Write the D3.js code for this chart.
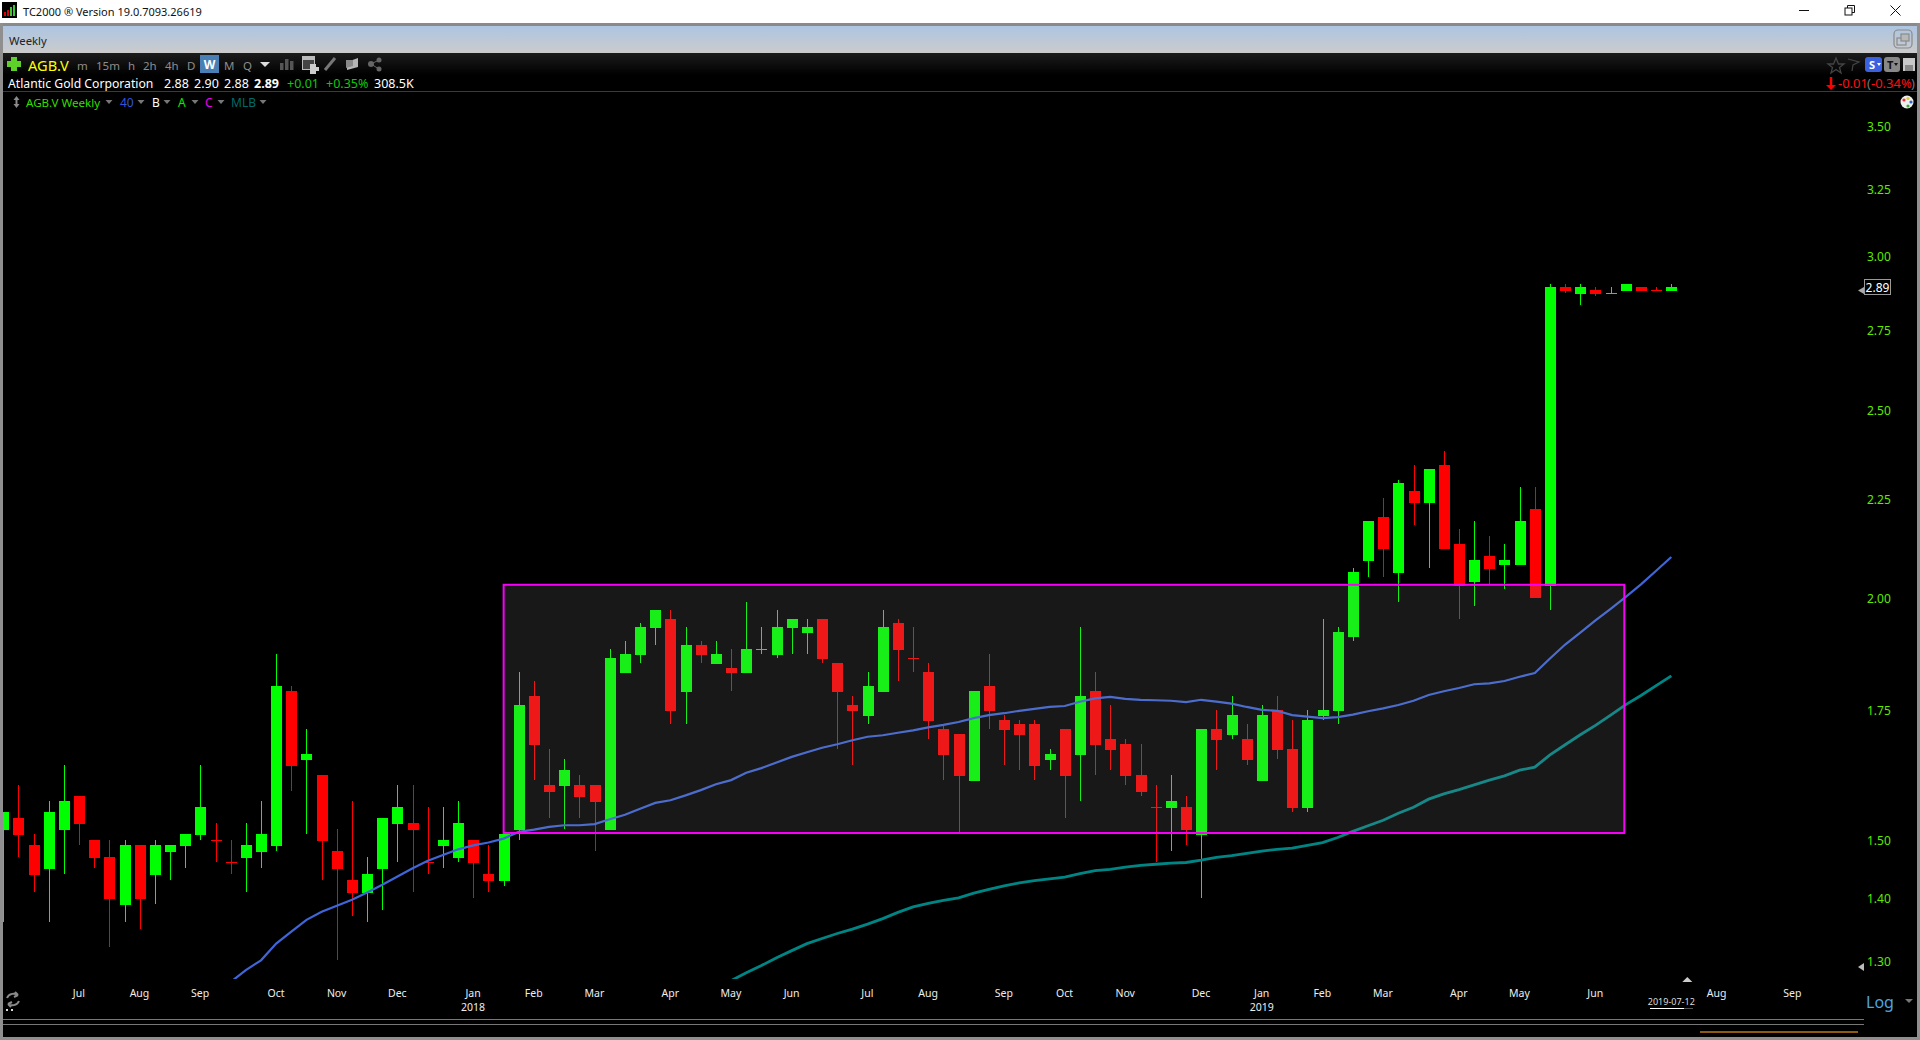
<!DOCTYPE html>
<html><head><meta charset="utf-8"><title>TC2000 AGB.V Weekly</title>
<script src="https://cdn.jsdelivr.net/npm/d3@7/dist/d3.min.js"></script>
<style>html,body{margin:0;padding:0;background:#000;overflow:hidden}svg{display:block}text{font-family:"Noto Sans","Open Sans",sans-serif}</style>
</head><body><svg id="c" width="1920" height="1040"></svg>
<script>
const opens=[1.52,1.54,1.49,1.45,1.52,1.58,1.50,1.47,1.39,1.49,1.44,1.48,1.49,1.51,1.50,1.46,1.47,1.48,1.49,1.79,1.65,1.62,1.48,1.43,1.41,1.45,1.53,1.53,1.46,1.49,1.47,1.50,1.44,1.43,1.52,1.78,1.60,1.60,1.60,1.60,1.52,1.83,1.87,1.93,1.95,1.79,1.89,1.85,1.84,1.83,1.88,1.87,1.93,1.92,1.95,1.85,1.76,1.74,1.79,1.94,1.86,1.83,1.71,1.70,1.61,1.80,1.73,1.72,1.72,1.65,1.71,1.66,1.79,1.69,1.68,1.62,1.56,1.56,1.56,1.51,1.71,1.70,1.69,1.61,1.75,1.67,1.56,1.74,1.75,1.91,2.09,2.20,2.06,2.27,2.24,2.34,2.13,2.04,2.10,2.08,2.08,2.22,2.03,2.89,2.87,2.88,2.87,2.88,2.89,2.88,2.88];
const highs=[1.55,1.60,1.51,1.57,1.64,1.58,1.50,1.50,1.50,1.49,1.50,1.49,1.51,1.64,1.53,1.50,1.53,1.57,1.87,1.80,1.71,1.62,1.52,1.57,1.47,1.54,1.60,1.60,1.56,1.56,1.57,1.50,1.49,1.51,1.83,1.81,1.67,1.65,1.62,1.60,1.88,1.90,1.94,1.97,1.97,1.93,1.90,1.90,1.88,1.99,1.93,1.97,1.95,1.95,1.95,1.85,1.78,1.83,1.97,1.95,1.93,1.85,1.72,1.70,1.79,1.87,1.74,1.73,1.73,1.67,1.71,1.93,1.83,1.76,1.69,1.68,1.60,1.62,1.58,1.71,1.75,1.78,1.72,1.76,1.78,1.73,1.75,1.95,1.93,2.07,2.19,2.25,2.30,2.34,2.33,2.38,2.17,2.19,2.15,2.13,2.28,2.28,2.90,2.90,2.90,2.89,2.89,2.90,2.89,2.89,2.90];
const lows=[1.36,1.47,1.41,1.36,1.44,1.49,1.45,1.32,1.36,1.35,1.39,1.43,1.45,1.50,1.46,1.44,1.41,1.45,1.48,1.59,1.51,1.43,1.30,1.37,1.36,1.38,1.46,1.41,1.44,1.45,1.46,1.40,1.41,1.42,1.50,1.61,1.54,1.52,1.54,1.48,1.52,1.83,1.85,1.89,1.72,1.72,1.85,1.85,1.79,1.83,1.87,1.86,1.87,1.87,1.85,1.67,1.64,1.72,1.79,1.81,1.83,1.69,1.61,1.51,1.61,1.71,1.64,1.63,1.61,1.63,1.54,1.57,1.62,1.63,1.60,1.58,1.46,1.48,1.49,1.40,1.63,1.69,1.64,1.61,1.65,1.55,1.55,1.73,1.72,1.90,2.05,2.05,1.99,2.18,2.07,2.12,1.95,1.98,2.03,2.02,2.08,2.00,1.97,2.87,2.83,2.86,2.87,2.88,2.88,2.88,2.88];
const closes=[1.55,1.51,1.44,1.55,1.57,1.53,1.47,1.40,1.49,1.40,1.49,1.49,1.51,1.56,1.50,1.46,1.49,1.51,1.80,1.64,1.66,1.50,1.45,1.41,1.44,1.54,1.56,1.52,1.46,1.50,1.53,1.46,1.43,1.51,1.76,1.68,1.59,1.63,1.58,1.57,1.86,1.87,1.93,1.97,1.75,1.89,1.87,1.87,1.83,1.88,1.88,1.93,1.95,1.93,1.86,1.79,1.75,1.80,1.93,1.88,1.86,1.73,1.66,1.62,1.79,1.75,1.71,1.70,1.64,1.66,1.62,1.78,1.68,1.67,1.62,1.59,1.56,1.57,1.52,1.71,1.69,1.74,1.65,1.74,1.67,1.56,1.73,1.75,1.92,2.06,2.19,2.12,2.29,2.24,2.33,2.12,2.03,2.09,2.07,2.09,2.19,2.00,2.89,2.88,2.89,2.87,2.87,2.90,2.88,2.88,2.89];
const redDojiBars=[14,15,28,60,76,109];

const blueStart=15;
const blueMA=[1.267,1.285,1.30,1.326,1.345,1.364,1.377,1.387,1.397,1.409,1.422,1.436,1.45,1.463,1.473,1.483,1.49,1.495,1.502,1.514,1.518,1.523,1.526,1.526,1.528,1.537,1.545,1.556,1.567,1.572,1.581,1.591,1.602,1.61,1.624,1.633,1.644,1.655,1.664,1.673,1.68,1.688,1.695,1.698,1.703,1.708,1.714,1.719,1.725,1.733,1.739,1.743,1.748,1.752,1.756,1.758,1.767,1.774,1.777,1.773,1.771,1.77,1.769,1.766,1.771,1.767,1.763,1.756,1.75,1.748,1.739,1.736,1.733,1.735,1.74,1.747,1.753,1.76,1.769,1.781,1.789,1.796,1.804,1.806,1.811,1.82,1.828,1.86,1.891,1.918,1.946,1.973,2.001,2.031,2.064,2.098];
const tealStart=48;
const tealMA=[1.269,1.281,1.292,1.304,1.315,1.326,1.334,1.342,1.349,1.357,1.366,1.376,1.385,1.391,1.396,1.40,1.408,1.414,1.42,1.425,1.429,1.432,1.435,1.441,1.446,1.448,1.452,1.455,1.457,1.459,1.46,1.464,1.469,1.472,1.476,1.48,1.483,1.485,1.49,1.495,1.504,1.515,1.525,1.535,1.548,1.559,1.574,1.584,1.592,1.601,1.61,1.618,1.629,1.635,1.659,1.679,1.699,1.718,1.739,1.761,1.78,1.801,1.822];

const priceTicks=[3.5,3.25,3,2.75,2.5,2.25,2,1.75,1.5,1.4,1.3];
const monthLabels=["Jul","Aug","Sep","Oct","Nov","Dec","Jan","Feb","Mar","Apr","May","Jun","Jul","Aug","Sep","Oct","Nov","Dec","Jan","Feb","Mar","Apr","May","Jun","Aug","Sep"];
const monthBars=[5,9,13,18,22,26,31,35,39,44,48,52,57,61,66,70,74,79,83,87,91,96,100,105,113,118];
const yearLabels=["2018","2019"];
const yearBars=[31,83];
const boxBars=[33,106.9];
const boxPrices=[2.03,1.512];
const lastClose=2.89;

const svg=d3.select("#c");
const x=d3.scaleLinear().domain([0,110]).range([3.2,1671.3]);
const y=d3.scaleLog().domain([3.5,1.3]).range([125.8,960.3]);
const GREEN="#00ff00",RED="#ff0000";

function T(tx,ty,s,fill,size,opt){opt=opt||{};
  return svg.append("text").attr("x",tx).attr("y",ty).attr("fill",fill).attr("font-size",size)
    .attr("font-weight",opt.w||400).attr("text-anchor",opt.a||"start").attr("dominant-baseline","central").text(s);}
function R(rx,ry,w,h,f,par){return (par||svg).append("rect").attr("x",rx).attr("y",ry).attr("width",w).attr("height",h).attr("fill",f);}
function P(d,f,s,sw){return svg.append("path").attr("d",d).attr("fill",f||"none").attr("stroke",s||"none").attr("stroke-width",sw||0);}

const defs=svg.append("defs");
const g1=defs.append("linearGradient").attr("id","hdr").attr("x1",0).attr("x2",0).attr("y1",0).attr("y2",1);
g1.append("stop").attr("offset","0").attr("stop-color","#adc5e2");
g1.append("stop").attr("offset","1").attr("stop-color","#cbcbcb");
const g2=defs.append("linearGradient").attr("id","tb").attr("x1",0).attr("x2",0).attr("y1",0).attr("y2",1);
g2.append("stop").attr("offset","0").attr("stop-color","#1c1c1c");
g2.append("stop").attr("offset","1").attr("stop-color","#000");
defs.append("clipPath").attr("id","plot").append("rect").attr("x",3).attr("y",92).attr("width",1850).attr("height",887);

// window chrome
R(0,0,1920,1040,"#000");
R(0,0,1920,23,"#fff");
R(0,23,1920,3,"#8a8a8a");
R(3,26,1914,27,"url(#hdr)");
R(3,53,1914,22,"url(#tb)");
R(3,91,1914,1,"#3a3a3a");
R(0,23,3,1017,"#8f8f8f");
R(1917,23,3,1017,"#8f8f8f");
R(0,1037,1920,3,"#8f8f8f");
R(3,1019,1861,1,"#777");
R(3,1024,1861,1,"#777");
R(1700,1031,158,2,"#8f5a10");

// title bar
R(2,2,15,16,"#000");
[[4,12,2,"#d00"],[7,10,2,"#d00"],[10,7,2,"#3c3"],[13,5,2,"#3c3"]].forEach(b=>R(b[0],b[1],b[2],13-b[1]+3,b[3]));
T(23,11.5,"TC2000 ® Version 19.0.7093.26619","#111",11);
R(1799,10,10,1,"#111");
svg.append("rect").attr("x",1845).attr("y",8).attr("width",7).attr("height",7).attr("fill","#fff").attr("stroke","#111");
P("M1847.5 8V5.5H1854.5V12.5H1852","none","#111",1);
P("M1890.5 5.5L1900.5 15.5M1900.5 5.5L1890.5 15.5","none","#111",1);
T(9,40,"Weekly","#222",11.3);
svg.append("rect").attr("x",1894).attr("y",30).attr("width",18).attr("height",18).attr("rx",4).attr("fill","none").attr("stroke","#8a8a8a").attr("stroke-width",1.2);
svg.append("rect").attr("x",1897).attr("y",38).attr("width",9).attr("height",7).attr("fill","none").attr("stroke","#8a8a8a").attr("stroke-width",1.2);
svg.append("rect").attr("x",1901).attr("y",34).attr("width",8).attr("height",7).attr("fill","#b8b8b8").attr("stroke","#8a8a8a").attr("stroke-width",1.2);

// toolbar row
P("M11 57H17V61H21V67H17V71H11V67H7V61H11Z","#5dd02a");
T(28,64.5,"AGB.V","#ffff00",14.6);
const periods=[["m",77],["15m",96],["h",128],["2h",143],["4h",165],["D",187],["M",224],["Q",243]];
periods.forEach(p=>T(p[1],65,p[0],"#8d8d8d",11.5));
R(200,55,19,18,"#4a7fb5");
T(209.5,64.5,"W","#fff",12,{w:700,a:"middle"});
P("M260 62H270L265 67Z","#ddd");
[[280,7],[285,11],[290,9]].forEach(b=>R(b[0],71-b[1]-1,3.5,b[1],"#555"));
R(302,56,13,14,"#bbb");
R(303,60,11,9,"#444");
P("M310 64h6v3h3v4h-3v3h-6z","#ccc");
P("M325 70L335 58","none","#777",3);
P("M347 62L358 58V67L347 70Z","#b5b5b5");
P("M346 60L353 60V66L346 68Z","#888");
svg.append("circle").attr("cx",371).attr("cy",64).attr("r",3).attr("fill","#666");
svg.append("circle").attr("cx",379).attr("cy",60).attr("r",2.5).attr("fill","#666");
svg.append("circle").attr("cx",379).attr("cy",69).attr("r",2.5).attr("fill","#666");
P("M371 64L379 60M371 64L379 69","none","#666",1);

// quote row
T(8,83,"Atlantic Gold Corporation","#fff",12.2);
T(164,83,"2.88","#fff",12.5);T(194,83,"2.90","#fff",12.5);T(224,83,"2.88","#fff",12.5);
T(254,83,"2.89","#fff",12.5,{w:700});
T(287,83,"+0.01","#0cc80c",12.5);T(326,83,"+0.35%","#0cc80c",12.5);T(374,83,"308.5K","#fff",12.5);
P("M1831 77V85","none","#ff0000",2.5);P("M1826 85H1836L1831 90Z","#ff0000");
T(1838,83,"-0.01","#ff1010",13);
T(1867,83,"(","#777",13);T(1871,83,"-0.34%","#ff1010",13);T(1911,83,")","#777",13);
P("M1836 58L1838.5 64H1844L1839.5 67.5L1841 73L1836 69.5L1831 73L1832.5 67.5L1828 64H1833.5Z","none","#444",1.3);
P("M1848 59L1859 62L1853 65L1852 71","none","#444",1.2);
svg.append("rect").attr("x",1865).attr("y",57).attr("width",17).attr("height",15).attr("rx",3).attr("fill","#3a62e0");
T(1869,64.5,"S","#fff",11,{w:700});P("M1877 63H1881L1879 66Z","#fff");
svg.append("rect").attr("x",1884).attr("y",57).attr("width",16).attr("height",15).attr("rx",3).attr("fill","#888");
T(1887,64.5,"T","#111",11,{w:700});P("M1894 63H1898L1896 66Z","#111");
R(1903,58,12,13,"#c8c8c8");R(1905,65,8,6,"#888");

// study row
P("M16.5 96L19.5 100H13.5Z M16.5 108L13.5 104H19.5Z","#8a8a8a");R(15.5,100,2,4,"#8a8a8a");
T(26,102.5,"AGB.V Weekly","#33dd00",11.6);
T(120,102.5,"40","#3355dd",12);T(152,102.5,"B","#fff",12);T(178,102.5,"A","#00ee00",12);T(205,102.5,"C","#ee00ee",12);T(231,102.5,"MLB","#006b6b",12);
[109,141,167,195,221,263].forEach(tx=>P(`M${tx-3.5} 100H${tx+3.5}L${tx} 104Z`,"#777"));
svg.append("circle").attr("cx",1907).attr("cy",102).attr("r",6.5).attr("fill","#eee");
[[1904,100,"#e33"],[1908,98.5,"#dc3"],[1911,102,"#36c"],[1908,106,"#3a3"]].forEach(c=>svg.append("circle").attr("cx",c[0]).attr("cy",c[1]).attr("r",1.6).attr("fill",c[2]));

// candles
const plot=svg.append("g").attr("clip-path","url(#plot)").attr("shape-rendering","crispEdges");
const idx=d3.range(opens.length);
const isRed=i=>closes[i]<opens[i]||redDojiBars.includes(i);
const col=i=>isRed(i)?RED:GREEN;
const px=i=>Math.round(x(i));
plot.selectAll("rect.w").data(idx).join("rect").attr("class","w")
  .attr("x",i=>px(i)).attr("width",1)
  .attr("y",i=>Math.round(y(highs[i]))).attr("height",i=>Math.max(1,Math.round(y(lows[i]))-Math.round(y(highs[i]))))
  .attr("fill",col);
plot.selectAll("rect.b").data(idx).join("rect").attr("class","b")
  .attr("x",i=>px(i)-5).attr("width",11)
  .attr("y",i=>Math.round(y(Math.max(opens[i],closes[i]))))
  .attr("height",i=>opens[i]===closes[i]?1:Math.round(y(Math.min(opens[i],closes[i])))-Math.round(y(Math.max(opens[i],closes[i])))+1)
  .attr("fill",col);

// moving averages
const lineClip=svg.append("g").attr("clip-path","url(#plot)");
const line=s=>d3.line().x((d,i)=>x(i+s)).y(d=>y(d));
lineClip.append("path").attr("d",line(tealStart)(tealMA)).attr("fill","none").attr("stroke","#008585").attr("stroke-width",2.8);
lineClip.append("path").attr("d",line(blueStart)(blueMA)).attr("fill","none").attr("stroke","#3f66d8").attr("stroke-width",2.2);

// annotation rectangle
svg.append("rect").attr("x",x(boxBars[0])).attr("y",y(boxPrices[0]))
  .attr("width",x(boxBars[1])-x(boxBars[0])).attr("height",y(boxPrices[1])-y(boxPrices[0]))
  .attr("fill","rgb(150,150,150)").attr("fill-opacity",.16).attr("stroke","none");
svg.append("rect").attr("x",x(boxBars[0])).attr("y",y(boxPrices[0]))
  .attr("width",x(boxBars[1])-x(boxBars[0])).attr("height",y(boxPrices[1])-y(boxPrices[0]))
  .attr("fill","none").attr("stroke","#f800f8").attr("stroke-width",2);

// axes
const yAx=svg.append("g").attr("transform","translate(1867,0)")
  .call(d3.axisRight(y).tickValues(priceTicks).tickFormat(d3.format(".2f")).tickSize(0).tickPadding(0));
yAx.select(".domain").remove();
yAx.selectAll("text").attr("fill","#5fe800").attr("font-size",12).attr("dy",".32em").attr("transform","translate(0,1.2)");
const xAx=svg.append("g").attr("transform","translate(-0.7,989)")
  .call(d3.axisBottom(x).tickValues(monthBars).tickFormat((d,i)=>monthLabels[i]).tickSize(0).tickPadding(0));
xAx.select(".domain").remove();
xAx.selectAll("text").attr("fill","#eee").attr("font-size",10.5).attr("dy",".32em").attr("y",5);
const xAx2=svg.append("g").attr("transform","translate(-0.7,1003)")
  .call(d3.axisBottom(x).tickValues(yearBars).tickFormat((d,i)=>yearLabels[i]).tickSize(0).tickPadding(0));
xAx2.select(".domain").remove();
xAx2.selectAll("text").attr("fill","#eee").attr("font-size",10.5).attr("dy",".32em").attr("y",5);

// last price flag and scale markers
const yLast=Math.round(y(lastClose));
svg.append("rect").attr("x",1864.5).attr("y",yLast-7.5).attr("width",26).attr("height",15).attr("fill","#000").attr("stroke","#999");
T(1877.5,yLast+.5,d3.format(".2f")(lastClose),"#fff",12,{a:"middle"});
P(`M1858 ${yLast+3.5}L1864 ${yLast}V${yLast+7}Z`,"#aaa");
P("M1858 967L1864 963V971Z","#bbb");
P(`M${x(110)+11} 982L${x(110)+16} 977L${x(110)+21} 982Z`,"#ccc");

// date slider and footer
T(x(110),1001,"2019-07-12","#ddd",9,{a:"middle"});
R(1650,1008,34,1,"#fff");R(1684,1008,9,1,"#555");
T(1866,1002,"Log","#4fa3e0",16);
P("M1905 999H1913L1909 1003Z","#777");
P("M7 998C9 993 15 993 18 995M18 995L15 992M18 995L14 997M19 1001C17 1006 11 1006 8 1004M8 1004L11 1007M8 1004L12 1002","none","#8a8a8a",2);
R(6,1009,2,2,"#ddd");R(11,1009,2,2,"#ddd");
</script></body></html>
